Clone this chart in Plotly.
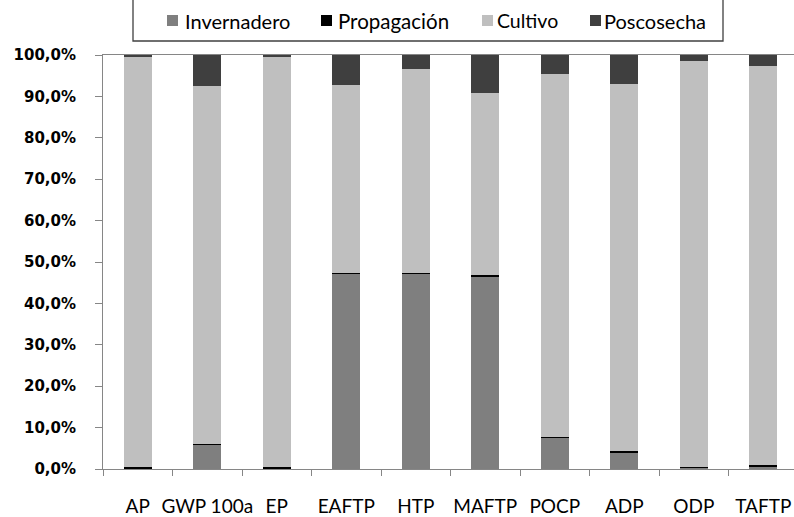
import plotly.graph_objects as go

categories = ["AP", "GWP 100a", "EP", "EAFTP", "HTP", "MAFTP", "POCP", "ADP", "ODP", "TAFTP"]
invernadero = [0.2, 5.8, 0.2, 47.2, 47.2, 46.6, 7.5, 4.0, 0.3, 0.7]
propagacion = [0.3, 0.3, 0.3, 0.2, 0.2, 0.2, 0.3, 0.3, 0.3, 0.3]
cultivo = [99.1, 86.3, 99.1, 45.3, 49.1, 44.0, 87.7, 88.6, 98.0, 96.3]
poscosecha = [0.4, 7.6, 0.4, 7.3, 3.5, 9.2, 4.5, 7.1, 1.4, 2.7]
y_ticks = [0, 10, 20, 30, 40, 50, 60, 70, 80, 90, 100]
y_ticktext = ["0,0%", "10,0%", "20,0%", "30,0%", "40,0%", "50,0%",
              "60,0%", "70,0%", "80,0%", "90,0%", "100,0%"]

series = [
    ("Invernadero", invernadero, "#7F7F7F"),
    ("Propagación", propagacion, "#000000"),
    ("Cultivo", cultivo, "#BFBFBF"),
    ("Poscosecha", poscosecha, "#3F3F3F"),
]
legend_swatch_x = [167, 321, 482, 590]
legend_text_x = [183, 336, 495, 602]
legend_text_size = [20, 20.5, 19.5, 20]

W, H = 794, 517
L, T, B = 103, 55, 48
pw = W - L
ph = H - T - B
cat_px = 69.5

def px_x(p):
    return (p - L) / pw

def px_y(p):
    return (H - B - p) / ph

fig = go.Figure()
shapes = [dict(type="rect", xref="paper", yref="paper",
               x0=px_x(133), x1=px_x(723), y0=px_y(41), y1=px_y(-20),
               line=dict(color="#404040", width=1.3), fillcolor="rgba(0,0,0,0)")]
annotations = []
for (name, vals, color), sx, tx, fs in zip(series, legend_swatch_x, legend_text_x, legend_text_size):
    fig.add_trace(go.Bar(x=categories, y=vals, name=name,
                         marker=dict(color=color, line=dict(width=0))))
    shapes.append(dict(type="rect", xref="paper", yref="paper",
                       x0=px_x(sx), x1=px_x(sx + 11), y0=px_y(26), y1=px_y(15),
                       line=dict(width=0), fillcolor=color))
    annotations.append(dict(text=name, xref="paper", yref="paper",
                            x=px_x(tx), y=px_y(20.5), xanchor="left", yanchor="middle",
                            showarrow=False,
                            font=dict(family="Lato", size=fs, color="#000000")))

fig.update_layout(
    width=W, height=H,
    margin=dict(l=L, r=0, t=T, b=B, autoexpand=False),
    barmode="stack", bargap=0.6,
    paper_bgcolor="white", plot_bgcolor="white",
    showlegend=False,
    shapes=shapes,
    annotations=annotations,
)
fig.update_xaxes(
    type="category", range=[-0.5, -0.5 + pw / cat_px],
    showline=True, linecolor="#868686", linewidth=1, mirror=True,
    ticks="outside", tickson="boundaries", ticklen=6, tickcolor="#868686",
    tickfont=dict(family="Lato", size=19, color="#000000"), tickangle=0,
    ticklabelstandoff=20, showgrid=False, zeroline=False, automargin=False,
)
fig.update_yaxes(
    range=[0, 100], tickvals=y_ticks, ticktext=y_ticktext,
    showline=True, linecolor="#868686", linewidth=1,
    ticks="outside", ticklen=7, tickcolor="#868686",
    tickfont=dict(family="DejaVu Sans", size=15, color="#000000", weight="bold"),
    ticklabelstandoff=16, showgrid=False, zeroline=False, automargin=False,
)

fig.write_html("out.html", config={"displayModeBar": False},
               post_script="document.body.style.margin='0';document.body.style.overflow='hidden';")
